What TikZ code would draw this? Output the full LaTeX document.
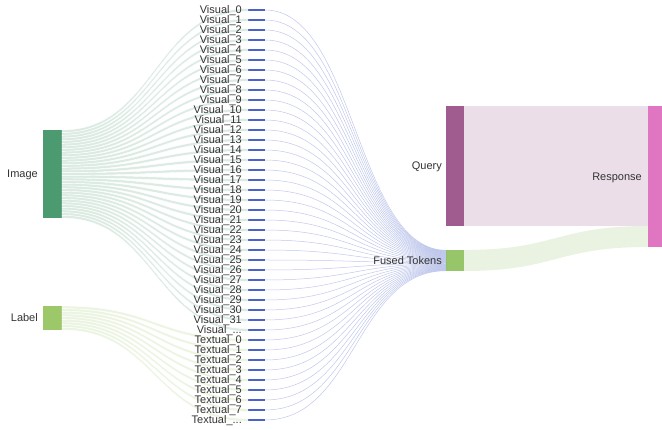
\documentclass[tikz,border=0pt]{standalone}
\usepackage{fontspec}
\setmainfont{Liberation Sans}
\usetikzlibrary{positioning}
\definecolor{imgcol}{HTML}{4B9A70}
\definecolor{lblcol}{HTML}{9DC86A}
\definecolor{tokcol}{HTML}{4B62C6}
\definecolor{fusedcol}{HTML}{97C56A}
\definecolor{querycol}{HTML}{A05B8F}
\definecolor{respcol}{HTML}{E076C2}
\definecolor{txtgray}{HTML}{333333}

\begin{document}
\begin{tikzpicture}[x=1pt, y=-1pt, font=\fontsize{11}{11}\selectfont, text=txtgray,
    bar/.style={draw=none, inner sep=0pt, outer sep=0pt},
    tokbar/.style={bar, fill=tokcol, minimum width=17pt, minimum height=2.67pt},
    caption/.style={inner sep=0pt, text height=7.7pt, text depth=0pt},
    tag/.style={caption, left=6pt of #1},
    imgflow/.style={fill=imgcol, fill opacity=.2, draw=white, line width=.4pt},
    lblflow/.style={fill=lblcol, fill opacity=.2, draw=white, line width=.4pt},
    tokflow/.style={draw=tokcol, draw opacity=.35, line width=.5pt},
    queryflow/.style={fill=querycol, fill opacity=.2},
    fusedflow/.style={fill=fusedcol, fill opacity=.2}]
  \useasboundingbox (0,0) rectangle (662,430);

  % source, middle and sink nodes
  \node[bar, fill=imgcol, minimum width=19pt, minimum height=88pt] (img) at (52.5,174) {};
  \node[bar, fill=lblcol, minimum width=19pt, minimum height=24pt] (lbl) at (52.5,318) {};
  \node[bar, fill=fusedcol, minimum width=18pt, minimum height=21pt] (fused) at (455,260.5) {};
  \node[bar, fill=querycol, minimum width=18pt, minimum height=120pt] (query) at (455,166) {};
  \node[bar, fill=respcol, minimum width=14pt, minimum height=141pt] (resp) at (655,176.5) {};

  % token column
  \node[tokbar] (tok0) at (256.5,10) {};
  \foreach \i [remember=\i as \j (initially 0)] in {1,...,41}
    \node[tokbar, on grid, below=10pt of tok\j] (tok\i) {};

  % image -> visual tokens
  \foreach \i [evaluate=\i as \ya using 88/33*\i, evaluate=\i as \yb using 88/33*(\i+1)] in {0,...,32}
    \filldraw[imgflow] ([yshift=-\ya pt]img.north east) .. controls +(93,0) and +(-93,0) .. (tok\i.north west)
      -- (tok\i.south west) .. controls +(-93,0) and +(93,0) .. ([yshift=-\yb pt]img.north east) -- cycle;

  % label -> textual tokens
  \foreach \k [evaluate=\k as \i using int(\k+33), evaluate=\k as \ya using 24/9*\k,
      evaluate=\k as \yb using 24/9*(\k+1)] in {0,...,8}
    \filldraw[lblflow] ([yshift=-\ya pt]lbl.north east) .. controls +(93,0) and +(-93,0) .. (tok\i.north west)
      -- (tok\i.south west) .. controls +(-93,0) and +(93,0) .. ([yshift=-\yb pt]lbl.north east) -- cycle;

  % tokens -> fused tokens
  \foreach \i [evaluate=\i as \yo using 0.25+0.5*\i] in {0,...,41}
    \draw[tokflow] (tok\i.east) .. controls +(90,0) and +(-90,0) .. ([yshift=-\yo pt]fused.north west);

  % query / fused -> response
  \fill[queryflow] (query.north east) -- (resp.north west) -- ([yshift=-120pt]resp.north west)
    -- (query.south east) -- cycle;
  \fill[fusedflow] (fused.north east) .. controls +(92,0) and +(-92,0) .. ([yshift=-120pt]resp.north west)
    -- (resp.south west) .. controls +(-92,0) and +(92,0) .. (fused.south east) -- cycle;

  % labels
  \node[caption, left=5pt of img] (imglabel) {Image};
  \node[caption, left=5pt of lbl] (lbllabel) {Label};
  \node[caption, left=4pt of fused] (fusedlabel) {Fused Tokens};
  \node[caption, left=4pt of query] (querylabel) {Query};
  \node[caption, left=6pt of resp] (resplabel) {Response};
  \foreach \i in {0,...,31}
    \node[tag=tok\i] (toklabel\i) {Visual\_\i};
  \node[tag=tok32] (toklabel32) {Visual\_...};
  \foreach \k [evaluate=\k as \i using int(\k+33)] in {0,...,7}
    \node[tag=tok\i] (toklabel\i) {Textual\_\k};
  \node[tag=tok41] (toklabel41) {Textual\_...};
\end{tikzpicture}
\end{document}
